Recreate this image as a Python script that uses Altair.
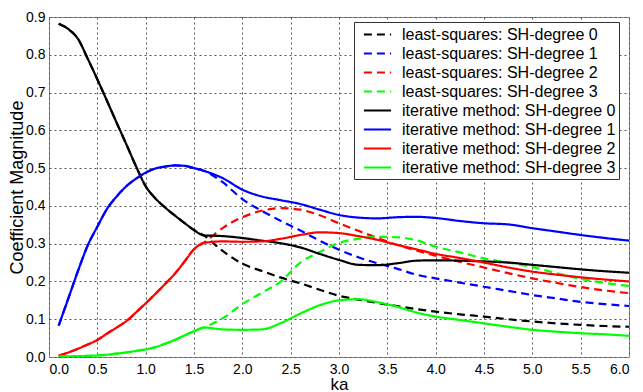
import altair as alt
import pandas as pd

ka = [0.1, 0.2, 0.3, 0.4, 0.5, 0.6, 0.7, 0.8, 0.9, 1.0, 1.1, 1.2, 1.3, 1.4, 1.5, 1.6,
      1.8, 2.0, 2.2, 2.4, 2.6, 2.8, 3.0, 3.2, 3.4, 3.6, 3.8, 4.0, 4.25, 4.5, 4.75,
      5.0, 5.25, 5.5, 5.75, 6.0]

iter_0 = [0.882, 0.868, 0.842, 0.790, 0.735, 0.678, 0.620, 0.563, 0.505, 0.452, 0.420,
          0.396, 0.375, 0.355, 0.336, 0.322, 0.320, 0.315, 0.308, 0.301, 0.290, 0.273,
          0.257, 0.244, 0.243, 0.248, 0.255, 0.256, 0.255, 0.253, 0.250, 0.244, 0.238,
          0.232, 0.227, 0.223]
iter_1 = [0.083, 0.155, 0.228, 0.295, 0.345, 0.392, 0.425, 0.452, 0.472, 0.488, 0.499,
          0.504, 0.507, 0.506, 0.500, 0.493, 0.473, 0.443, 0.425, 0.415, 0.405, 0.390,
          0.376, 0.369, 0.367, 0.370, 0.371, 0.368, 0.360, 0.354, 0.351, 0.341, 0.332,
          0.323, 0.315, 0.308]
iter_2 = [0.003, 0.012, 0.022, 0.033, 0.045, 0.062, 0.078, 0.095, 0.118, 0.142, 0.167,
          0.193, 0.220, 0.252, 0.285, 0.302, 0.306, 0.305, 0.306, 0.313, 0.323, 0.330,
          0.328, 0.320, 0.310, 0.297, 0.285, 0.273, 0.262, 0.250, 0.237, 0.226, 0.218,
          0.211, 0.205, 0.200]
iter_3 = [0.002, 0.002, 0.002, 0.003, 0.004, 0.006, 0.009, 0.012, 0.016, 0.020, 0.026,
          0.035, 0.045, 0.057, 0.068, 0.078, 0.073, 0.072, 0.073, 0.090, 0.115, 0.137,
          0.150, 0.153, 0.145, 0.133, 0.118, 0.107, 0.098, 0.089, 0.080, 0.072, 0.067,
          0.063, 0.060, 0.056]

ls_0 = iter_0[:16] + [0.280, 0.247, 0.228, 0.210, 0.195, 0.178, 0.162, 0.152, 0.143,
                      0.135, 0.127, 0.120, 0.113, 0.107, 0.100, 0.094, 0.089, 0.085,
                      0.082, 0.080]
ls_1 = iter_1[:16] + [0.462, 0.418, 0.387, 0.360, 0.335, 0.308, 0.284, 0.264, 0.248,
                      0.234, 0.218, 0.208, 0.197, 0.186, 0.175, 0.164, 0.155, 0.146,
                      0.140, 0.135]
ls_2 = iter_2[:16] + [0.342, 0.370, 0.387, 0.394, 0.390, 0.375, 0.354, 0.334, 0.315,
                      0.297, 0.282, 0.268, 0.252, 0.237, 0.222, 0.208, 0.196, 0.185,
                      0.176, 0.169]
ls_3 = iter_3[:16] + [0.103, 0.140, 0.170, 0.200, 0.250, 0.278, 0.302, 0.313, 0.318,
                      0.317, 0.309, 0.292, 0.277, 0.261, 0.250, 0.238, 0.222, 0.207,
                      0.196, 0.188]

names = ["least-squares: SH-degree 0", "least-squares: SH-degree 1",
         "least-squares: SH-degree 2", "least-squares: SH-degree 3",
         "iterative method: SH-degree 0", "iterative method: SH-degree 1",
         "iterative method: SH-degree 2", "iterative method: SH-degree 3"]
series = [ls_0, ls_1, ls_2, ls_3, iter_0, iter_1, iter_2, iter_3]
colors = ["#000000", "#0000ff", "#ff0000", "#00ff00",
          "#000000", "#0000ff", "#ff0000", "#00ff00"]
dashes = [[8, 5]] * 4 + [[1, 0]] * 4

y_ticks = [0.0, 0.1, 0.2, 0.3, 0.4, 0.5, 0.6, 0.7, 0.8, 0.9]
x_ticks = [0.0, 0.5, 1.0, 1.5, 2.0, 2.5, 3.0, 3.5, 4.0, 4.5, 5.0, 5.5, 6.0]

rows = []
for order, (nm, vals) in enumerate(zip(names, series)):
    for k, v in zip(ka, vals):
        rows.append({"ka": k, "value": v, "series": nm, "order": order})
df = pd.DataFrame(rows)

FONT = "Liberation Sans"

legend = alt.Legend(
    title=None, orient="none", legendX=305, legendY=5,
    symbolType="M-1.7,0H1.7", symbolSize=256, symbolStrokeWidth=2.2,
    symbolOffset=11, labelOffset=15,
    labelFontSize=16, labelFont=FONT, labelLimit=400, labelColor="black",
    labelExpr="datum.label + '\u00a0\u00a0'",
    strokeColor="#333333", fillColor="white", padding=3, rowPadding=1,
)

chart = alt.Chart(df).mark_line(strokeWidth=2.2, clip=True, interpolate="monotone").encode(
    x=alt.X("ka:Q", scale=alt.Scale(domain=[0, 6], nice=False),
            axis=alt.Axis(values=x_ticks, format=".1f", title="ka")),
    y=alt.Y("value:Q", scale=alt.Scale(domain=[0, 0.9], nice=False),
            axis=alt.Axis(values=y_ticks, format=".1f", title="Coefficient Magnitude")),
    color=alt.Color("series:N", scale=alt.Scale(domain=names, range=colors), legend=legend),
    strokeDash=alt.StrokeDash("series:N", scale=alt.Scale(domain=names, range=dashes),
                              legend=legend),
    detail="series:N",
    order="order:Q",
).properties(
    width=580, height=340,
    autosize=alt.AutoSizeParams(type="none"),
    padding={"left": 41, "top": 9, "right": 6, "bottom": 35},
).configure_view(
    stroke="#888888", strokeWidth=1
).configure_axis(
    labelFont=FONT, titleFont=FONT, labelFontSize=14, titleFontSize=18,
    titleFontWeight="normal", labelColor="black", titleColor="black",
    grid=True, gridColor="#555555", gridDash=[2, 3], gridWidth=1,
    domain=False, ticks=False, labelPadding=4
).configure_axisX(
    titlePadding=0, labelPadding=5, titleFontSize=17
).configure_axisY(
    titleX=-23, titleFontSize=18
)

chart.save("out.html", embed_options={"renderer": "svg", "actions": False})
